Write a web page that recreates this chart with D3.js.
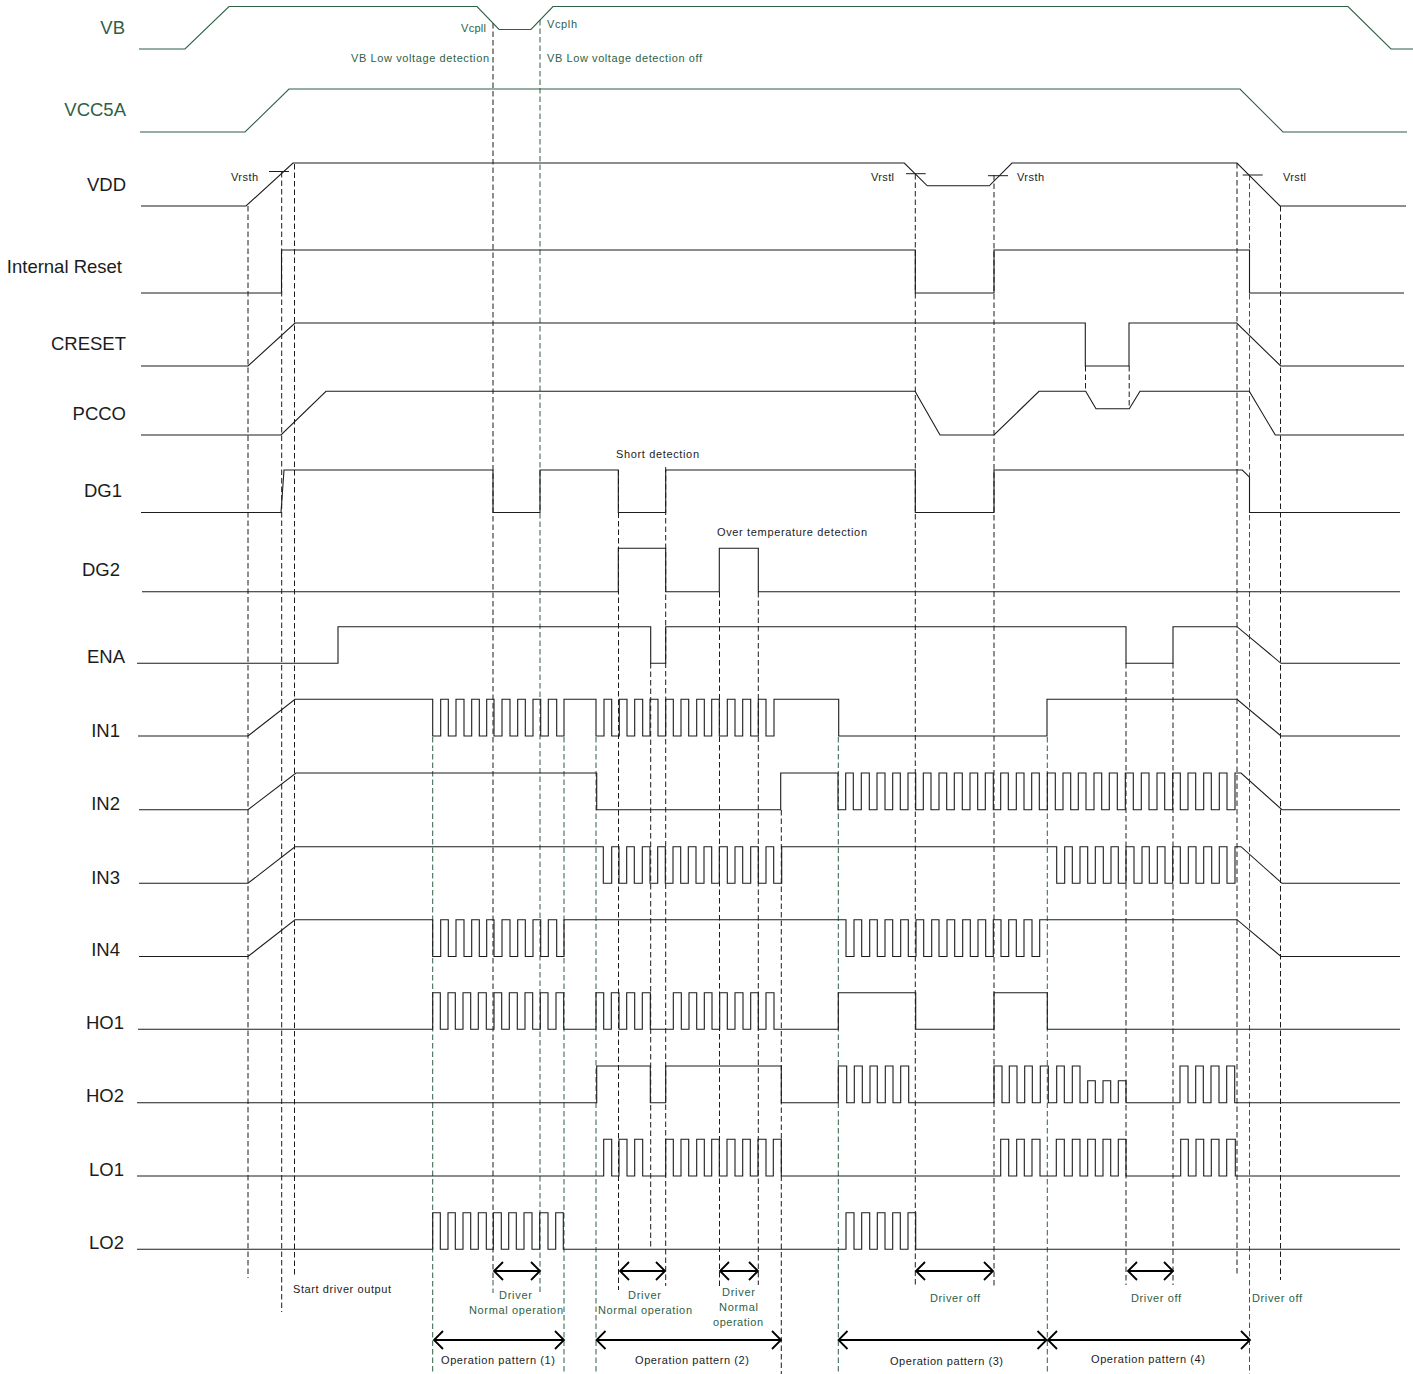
<!DOCTYPE html>
<html>
<head>
<meta charset="utf-8">
<script src="https://cdn.jsdelivr.net/npm/d3@7"></script>
<style>
  html, body { margin: 0; padding: 0; background: #fff; }
  svg { display: block; }
  text { font-family: "Liberation Sans", Arial, sans-serif; }
</style>
</head>
<body>
<div id="chart"></div>
<script>
// signal names
const signalNames = ["VB", "VCC5A", "VDD", "Internal Reset", "CRESET", "PCCO", "DG1", "DG2", "ENA",
  "IN1", "IN2", "IN3", "IN4", "HO1", "HO2", "LO1", "LO2"];

// edge times of the pulse bursts
const in1Burst1 = [432.7, 440.7, 448.3, 456, 464, 471.7, 479.3, 486.7, 494, 502, 510, 517.7, 525.3, 533, 540.7, 548.3, 556.7, 564];
const in1Burst2 = [596, 604, 611.7, 619.3, 627, 634.7, 642.7, 650, 658, 665.7, 673.3, 681, 688.7, 696.7, 704.3, 711.7, 719.3, 727.3, 735, 742.7, 750.7, 758.3, 766, 774];
const in2Burst = [838, 845.7, 853.3, 861.3, 869.3, 877, 885, 892.7, 900.3, 908, 915.7, 923.3, 931, 939, 946.7, 954.3, 962.3, 970, 977.7, 985.3, 993.3, 1000.7, 1008.3, 1016.3, 1024, 1031.7, 1039.3, 1047.3, 1055.3, 1063, 1070.7, 1078.3, 1086, 1094, 1101.7, 1109.3, 1117.3, 1125.3, 1133.3, 1141.3, 1149, 1157, 1164.7, 1172.7, 1180.3, 1188, 1195.7, 1203.7, 1211.3, 1219.3, 1227, 1235];
const in3Burst1 = [603.3, 611.7, 619, 626.7, 634.3, 642.3, 650, 657.7, 665.3, 673, 680.7, 688.3, 696, 704, 711.7, 719.3, 727.3, 735, 742.7, 750.7, 758.3, 766, 773.7, 781.7];
const in3Burst2 = [1056.7, 1064.7, 1072.3, 1080, 1087.7, 1095.3, 1103.3, 1111, 1118.3, 1126, 1134, 1142, 1149.3, 1157.3, 1165, 1172.7, 1180.3, 1188.3, 1196, 1203.7, 1211.7, 1219.3, 1227, 1235];
const in4Burst1 = [432.7, 440.7, 448.3, 456, 464, 471.7, 479.3, 486.7, 494, 502, 510, 517.7, 525.3, 533, 540.7, 548.3, 556.7, 564];
const in4Burst2 = [846, 854, 861.7, 869.7, 877.3, 885, 892.7, 900.7, 908.3, 916, 923.7, 931.7, 939, 947, 954.7, 962.7, 970.3, 978, 985.7, 993.3, 1001, 1008.7, 1016.3, 1024, 1032, 1039.7];
const ho1Burst1 = [432.7, 440.3, 448, 455.3, 463, 470.7, 478.3, 486.3, 494, 501.7, 509.3, 517.3, 525, 532.7, 540.3, 548, 556, 563.7];
const ho1Burst2 = [596, 603.7, 611.3, 619, 626.7, 634.7, 642.3, 650.3];
const ho1Burst3 = [673.3, 681.3, 689, 696.7, 704.3, 712, 719.7, 727.3, 735, 743, 750.7, 758.3, 766, 774];
const ho1Block = [838.3, 915.7, 994, 1047.3];
const ho2Block = [596.7, 650.3, 665.7, 781.3];
const ho2Burst1 = [838.3, 846.7, 854.3, 862.3, 870, 877.3, 885.3, 893, 900.7, 908.7];
const ho2Burst2 = [994, 1002, 1009.3, 1017, 1024.7, 1032.3, 1040.3, 1048.3, 1056.7, 1064.3, 1072.3, 1080];
const ho2Short = [1087.7, 1095.3, 1103, 1110.7, 1118.3, 1126];
const ho2Burst3 = [1180, 1188, 1195.7, 1203.3, 1211, 1219, 1226.7, 1234.7];
const lo1Burst1 = [603.7, 611.7, 619, 627, 634.7, 642.7];
const lo1Burst2 = [665.7, 673.3, 681, 688.7, 696.7, 704.3, 711.7, 719.3, 727, 735, 742.7, 750.3, 758, 766, 773.3, 781.3];
const lo1Burst3 = [1000.7, 1008.7, 1016.7, 1024.3, 1032, 1040, 1056.3, 1064.3, 1072.3, 1080, 1087.7, 1095.3, 1103, 1110.7, 1118.3, 1126];
const lo1Burst4 = [1180.7, 1188.3, 1196, 1203.7, 1211.3, 1219, 1226.7, 1235.3];
const lo2Burst1 = [432.7, 440.3, 448, 455.3, 463, 470.7, 478.3, 486.3, 493.3, 501.3, 508.7, 516.3, 524, 532, 539.7, 548, 555.7, 563.3];
const lo2Burst2 = [846, 854, 861.7, 869.7, 877.3, 885, 892.7, 900.3, 908, 915.7];

// one flip per edge, level is the level before the first edge
function toggle(level, edges, high = 1) {
  const points = [];
  let current = level;
  edges.forEach((edge) => {
    points.push([edge, current]);
    current = current === 0 ? high : 0;
    points.push([edge, current]);
  });
  return points;
}

// waveforms as [time, level] points, level 0 is low and 1 is high
const vb = [[139, 0], [185, 0], [229, 1], [477, 1], [499, 0.46], [531, 0.46], [553, 1], [1348, 1], [1391, 0], [1413, 0]];
const vcc5a = [[140, 0], [245, 0], [289, 1], [1240, 1], [1283, 0], [1407, 0]];
const vdd = [[141, 0], [246, 0], [293, 1], [904.3, 1], [927.3, 0.47], [989.3, 0.47], [1012, 1], [1237, 1], [1280, 0], [1406, 0]];
const internalReset = [[141, 0], ...toggle(0, [281.5]), ...toggle(1, [915.3, 994, 1249.5]), [1404, 0]];
const creset = [[141, 0], [248, 0], [295, 1], ...toggle(1, [1085.3, 1129]), [1236.7, 1], [1280.7, 0], [1404, 0]];
const pcco = [[141, 0], [281, 0], [326, 1], [915, 1], [940, 0], [994, 0], [1039, 1], [1085.7, 1], [1096, 0.6], [1129.3, 0.6], [1140, 1], [1249.3, 1], [1275.3, 0], [1404, 0]];
const dg1 = [[141, 0], [281, 0], [284, 1], ...toggle(1, [493, 540, 618.3, 665.7, 915.3, 994]), [1242.3, 1], [1249.5, 0.83], [1249.5, 0], [1400, 0]];
const dg2 = [[142, 0], ...toggle(0, [618.3, 665.7, 719.3, 758.3]), [1400, 0]];
const ena = [[137, 0], ...toggle(0, [338, 650.7, 665.7, 1126, 1173]), [1237, 1], [1281, 0], [1400, 0]];
const in1 = [[138, 0], [248, 0], [295, 1], ...toggle(1, in1Burst1), ...toggle(1, in1Burst2), ...toggle(1, [838.7, 1047]), [1237, 1], [1281, 0], [1400, 0]];
const in2 = [[139, 0], [248, 0], [296, 1], ...toggle(1, [596.7, 780.7]), ...toggle(1, in2Burst), [1241, 1], [1282, 0], [1400, 0]];
const in3 = [[139, 0], [248, 0], [295, 1], ...toggle(1, in3Burst1), ...toggle(1, in3Burst2), [1241, 1], [1282, 0], [1400, 0]];
const in4 = [[139, 0], [248, 0], [295, 1], ...toggle(1, in4Burst1), ...toggle(1, in4Burst2), [1237, 1], [1281, 0], [1400, 0]];
const ho1 = [[138, 0], ...toggle(0, ho1Burst1), ...toggle(0, ho1Burst2), ...toggle(0, ho1Burst3), ...toggle(0, ho1Block), [1400, 0]];
const ho2 = [[137, 0], ...toggle(0, ho2Block), ...toggle(0, ho2Burst1), ...toggle(0, ho2Burst2), ...toggle(0, ho2Short, 0.6), ...toggle(0, ho2Burst3), [1400, 0]];
const lo1 = [[137, 0], ...toggle(0, lo1Burst1), ...toggle(0, lo1Burst2), ...toggle(0, lo1Burst3), ...toggle(0, lo1Burst4), [1400, 0]];
const lo2 = [[137, 0], ...toggle(0, lo2Burst1), ...toggle(0, lo2Burst2), [1400, 0]];
const waveforms = [vb, vcc5a, vdd, internalReset, creset, pcco, dg1, dg2, ena, in1, in2, in3, in4, ho1, ho2, lo1, lo2];

// layout
const width = 1413;
const height = 1374;
const rowLow = [49, 132, 206, 293, 366, 435, 512.5, 591.7, 663.3, 736, 809.7, 883.3, 956.5, 1029.3, 1102.7, 1176, 1249.3];
const rowHigh = [6.5, 89, 163, 250, 323, 391.3, 470, 548.3, 626.7, 699.3, 773, 846.7, 919.7, 992.7, 1066, 1139.3, 1212.7];
const labelRight = [125, 126, 126, 122, 126, 126, 122, 120, 125, 120, 120, 120, 120, 124, 124, 124, 124];
const labelY = [28, 110, 185, 267, 344, 414, 491, 570, 657, 731, 804, 878, 950, 1023, 1096, 1170, 1243];
const greenRows = ["VB", "VCC5A"];

const green = "#2f5f45";
const black = "#1c1c1c";

const x = d3.scaleLinear().domain([0, width]).range([0, width]);

const svg = d3.select("#chart").append("svg").attr("width", width).attr("height", height);

// vertical dashed guides: x, from, to, colour
const guides = [
  [248, 206, 1278, black], [281.7, 172, 1312, black], [294.5, 164, 1276, black],
  [432.7, 737, 1374, green], [493, 23, 1280, black], [493, 1280, 1293, green], [540, 20, 1293, green],
  [564, 737, 1374, green], [596, 737, 1374, green], [618.5, 470, 1290, black], [650.7, 663, 1248, black],
  [665.7, 467, 1286, black], [719.5, 592, 1286, black], [758.3, 592, 1285, black], [781.3, 810, 1374, black],
  [838.3, 737, 1374, green], [915.3, 174, 1285, black], [994, 175, 1288, black], [1047.3, 737, 1374, green],
  [1085.5, 366, 391, black], [1129.2, 366, 408, black], [1126, 663, 1285, black], [1173, 663, 1285, black],
  [1237, 163, 1276, black], [1249.5, 175, 1374, green], [1280.5, 206, 1280, black]
];

svg.append("g").selectAll("line").data(guides).join("line")
  .attr("x1", (d) => x(d[0]))
  .attr("x2", (d) => x(d[0]))
  .attr("y1", (d) => d[1])
  .attr("y2", (d) => d[2])
  .attr("stroke", (d) => d[3])
  .attr("stroke-width", 1)
  .attr("stroke-dasharray", "5.5,3");

// waveforms
signalNames.forEach((name, i) => {
  const y = d3.scaleLinear().domain([0, 1]).range([rowLow[i], rowHigh[i]]);
  const line = d3.line().x((d) => x(d[0])).y((d) => y(d[1]));
  svg.append("path")
    .attr("d", line(waveforms[i]))
    .attr("fill", "none")
    .attr("stroke", greenRows.includes(name) ? green : black)
    .attr("stroke-width", 1.1)
    .attr("stroke-linejoin", "miter");

  svg.append("text")
    .attr("x", labelRight[i])
    .attr("y", labelY[i])
    .attr("dy", "0.35em")
    .attr("text-anchor", "end")
    .attr("font-size", 18.5)
    .attr("fill", greenRows.includes(name) ? green : black)
    .text(name);
});

// threshold ticks on VDD
const ticks = [[269, 289, 171.5], [906, 925.7, 173.7], [988, 1008, 175.7], [1242.7, 1262.7, 175]];
svg.append("g").selectAll("line").data(ticks).join("line")
  .attr("x1", (d) => x(d[0]))
  .attr("x2", (d) => x(d[1]))
  .attr("y1", (d) => d[2])
  .attr("y2", (d) => d[2])
  .attr("stroke", black)
  .attr("stroke-width", 1);

// double headed arrows: from, to, y
const arrows = [
  [494, 540, 1271], [620, 665, 1271], [720, 758, 1271], [916, 993, 1271], [1128, 1173, 1271],
  [434, 564, 1340], [596.5, 781, 1340], [838.5, 1046.5, 1340], [1048, 1250, 1340]
];
const headX = 9;
const headY = 9;
arrows.forEach(([from, to, y]) => {
  const path = d3.path();
  path.moveTo(x(from), y);
  path.lineTo(x(to), y);
  path.moveTo(x(from) + headX, y - headY);
  path.lineTo(x(from), y);
  path.lineTo(x(from) + headX, y + headY);
  path.moveTo(x(to) - headX, y - headY);
  path.lineTo(x(to), y);
  path.lineTo(x(to) - headX, y + headY);
  svg.append("path")
    .attr("d", path.toString())
    .attr("fill", "none")
    .attr("stroke", "#000")
    .attr("stroke-width", 1.8);
});

// small notes: text, x, y, anchor, width, colour
const notes = [
  ["Vcpll", 486, 28, "end", 25, green],
  ["Vcplh", 547, 24, "start", 30, green],
  ["VB Low voltage detection", 351, 58, "start", 138, green],
  ["VB Low voltage detection off", 547, 58, "start", 155, green],
  ["Vrsth", 231, 177, "start", 27, black],
  ["Vrstl", 871, 177, "start", 23, black],
  ["Vrsth", 1017, 177, "start", 27, black],
  ["Vrstl", 1283, 177, "start", 23, black],
  ["Short detection", 616, 454, "start", 83, black],
  ["Over temperature detection", 717, 532, "start", 150, black],
  ["Start driver output", 293, 1289, "start", 98, black],
  ["Driver", 499, 1295, "start", 33, green],
  ["Normal operation", 469, 1310, "start", 94, green],
  ["Driver", 628, 1295, "start", 33, green],
  ["Normal operation", 598, 1310, "start", 94, green],
  ["Driver", 722, 1292, "start", 33, green],
  ["Normal", 719, 1307, "start", 39, green],
  ["operation", 713, 1322, "start", 50, green],
  ["Driver off", 930, 1298, "start", 50, green],
  ["Driver off", 1131, 1298, "start", 50, green],
  ["Driver off", 1252, 1298, "start", 50, green],
  ["Operation pattern (1)", 441, 1360, "start", 114, black],
  ["Operation pattern (2)", 635, 1360, "start", 114, black],
  ["Operation pattern (3)", 890, 1361, "start", 113, black],
  ["Operation pattern (4)", 1091, 1359, "start", 114, black]
];

svg.append("g").selectAll("text").data(notes).join("text")
  .attr("x", (d) => d[1])
  .attr("y", (d) => d[2])
  .attr("dy", "0.35em")
  .attr("text-anchor", (d) => d[3])
  .attr("textLength", (d) => d[4])
  .attr("lengthAdjust", "spacing")
  .attr("font-size", 11)
  .attr("fill", (d) => d[5])
  .text((d) => d[0]);
</script>
</body>
</html>
